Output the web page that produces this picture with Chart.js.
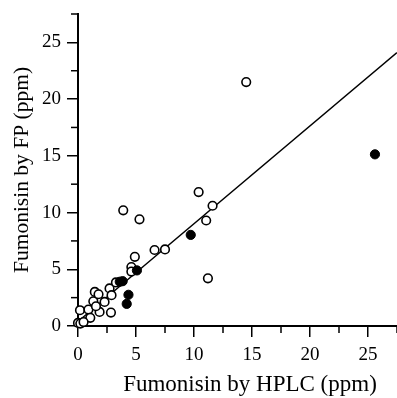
<!DOCTYPE html>
<html>
<head>
<meta charset="utf-8">
<script src="https://cdn.jsdelivr.net/npm/chart.js@4"></script>
<style>
html,body{margin:0;padding:0;background:#fff;}
#wrap{width:397px;height:398px;}
</style>
</head>
<body>
<div id="wrap"><canvas id="c" width="397" height="398"></canvas></div>
<script>
// Open circles (HPLC ppm, FP ppm)
const openX = [14.5, 10.4, 11.6, 11.05, 3.9, 5.3, 6.6, 7.5, 11.2, 4.9, 4.6, 4.6,
  0.17, 0.9, 1.45, 1.32, 1.77, 1.86, 1.55, 2.29, 2.72, 2.89, 2.84, 3.27, 1.06, 0.0, 0.2, 0.48];
const openY = [21.5, 11.8, 10.6, 9.3, 10.2, 9.4, 6.7, 6.75, 4.2, 6.1, 5.2, 4.8,
  1.39, 1.45, 3.0, 2.18, 2.8, 1.24, 1.74, 2.12, 3.31, 2.72, 1.18, 3.84, 0.72, 0.27, 0.21, 0.35];
// Filled circles
const filledX = [3.6, 3.85, 5.08, 4.35, 4.2, 9.72, 25.6];
const filledY = [3.9, 3.95, 4.9, 2.75, 1.95, 8.03, 15.13];
// Regression line endpoints
const lineX = [0, 27.5];
const lineY = [0.4, 24.1];
// Axes
const axisMax = 27.5;
const tickStep = 2.5;
const labelStep = 5;
const xTitle = 'Fumonisin by HPLC (ppm)';
const yTitle = 'Fumonisin by FP (ppm)';

const toPts = (xs, ys) => xs.map((x, i) => ({x: x, y: ys[i]}));

const minorTicks = {
  id: 'minorTicks',
  afterDraw(chart) {
    const ctx = chart.ctx;
    const xs = chart.scales.x, ys = chart.scales.y;
    ctx.save();
    ctx.strokeStyle = '#000';
    ctx.lineWidth = 1.5;
    for (let v = 0; v <= axisMax + 1e-9; v += tickStep) {
      if (Math.abs(v / labelStep - Math.round(v / labelStep)) < 1e-6) continue;
      const px = xs.getPixelForValue(v);
      ctx.beginPath(); ctx.moveTo(px, xs.top); ctx.lineTo(px, xs.top + 7); ctx.stroke();
      const py = ys.getPixelForValue(v);
      ctx.beginPath(); ctx.moveTo(ys.right, py); ctx.lineTo(ys.right - 7, py); ctx.stroke();
    }
    // titles
    ctx.fillStyle = '#000';
    ctx.font = '23px "Liberation Serif", "Times New Roman", serif';
    ctx.textAlign = 'center';
    ctx.textBaseline = 'middle';
    ctx.fillText(xTitle, 250, 385);
    ctx.save();
    ctx.translate(22, (ys.top + ys.bottom) / 2);
    ctx.rotate(-Math.PI / 2);
    ctx.font = '21.5px "Liberation Serif", "Times New Roman", serif';
    ctx.fillText(yTitle, 0, 0);
    ctx.restore();
    ctx.restore();
  }
};

const serif = '"Liberation Serif", "Times New Roman", serif';
const scaleCommon = {
  type: 'linear',
  min: 0,
  max: axisMax,
  border: {display: true, color: '#000', width: 2},
  grid: {
    display: true,
    drawOnChartArea: false,
    drawTicks: true,
    tickLength: 11,
    lineWidth: 1.5,
    color: c => (c.tick && Math.abs(c.tick.value % labelStep) < 1e-6) ? '#000' : 'rgba(0,0,0,0)'
  },
  ticks: {
    stepSize: tickStep,
    color: '#000',
    font: {family: serif, size: 19},
    autoSkip: false,
    maxRotation: 0,
    callback: v => (Math.abs(v % labelStep) < 1e-6) ? String(v) : ''
  }
};

new Chart(document.getElementById('c'), {
  type: 'scatter',
  data: {
    datasets: [
      {
        type: 'line',
        data: toPts(lineX, lineY),
        borderColor: '#000',
        borderWidth: 1.5,
        pointRadius: 0,
        fill: false,
        order: 3
      },
      {
        data: toPts(openX, openY),
        pointRadius: 4.3,
        pointBorderWidth: 1.6,
        pointBackgroundColor: '#fff',
        pointBorderColor: '#000',
        order: 2
      },
      {
        data: toPts(filledX, filledY),
        pointRadius: 4.6,
        pointBorderWidth: 1,
        pointBackgroundColor: '#000',
        pointBorderColor: '#000',
        order: 1
      }
    ]
  },
  options: {
    responsive: false,
    animation: false,
    devicePixelRatio: 1,
    clip: false,
    layout: {autoPadding: false, padding: {top: 14, right: 0, left: 0, bottom: 0}},
    plugins: {legend: {display: false}, tooltip: {enabled: false}},
    scales: {
      x: Object.assign({}, scaleCommon, {
        position: 'bottom',
        ticks: Object.assign({}, scaleCommon.ticks, {padding: 7}),
        afterFit: s => { s.height = 72; s.paddingLeft = 0; s.paddingRight = 0; }
      }),
      y: Object.assign({}, scaleCommon, {
        position: 'left',
        ticks: Object.assign({}, scaleCommon.ticks, {padding: 6}),
        afterFit: s => { s.width = 78; s.paddingTop = 0; s.paddingBottom = 0; }
      })
    }
  },
  plugins: [minorTicks]
});
</script>
</body>
</html>
